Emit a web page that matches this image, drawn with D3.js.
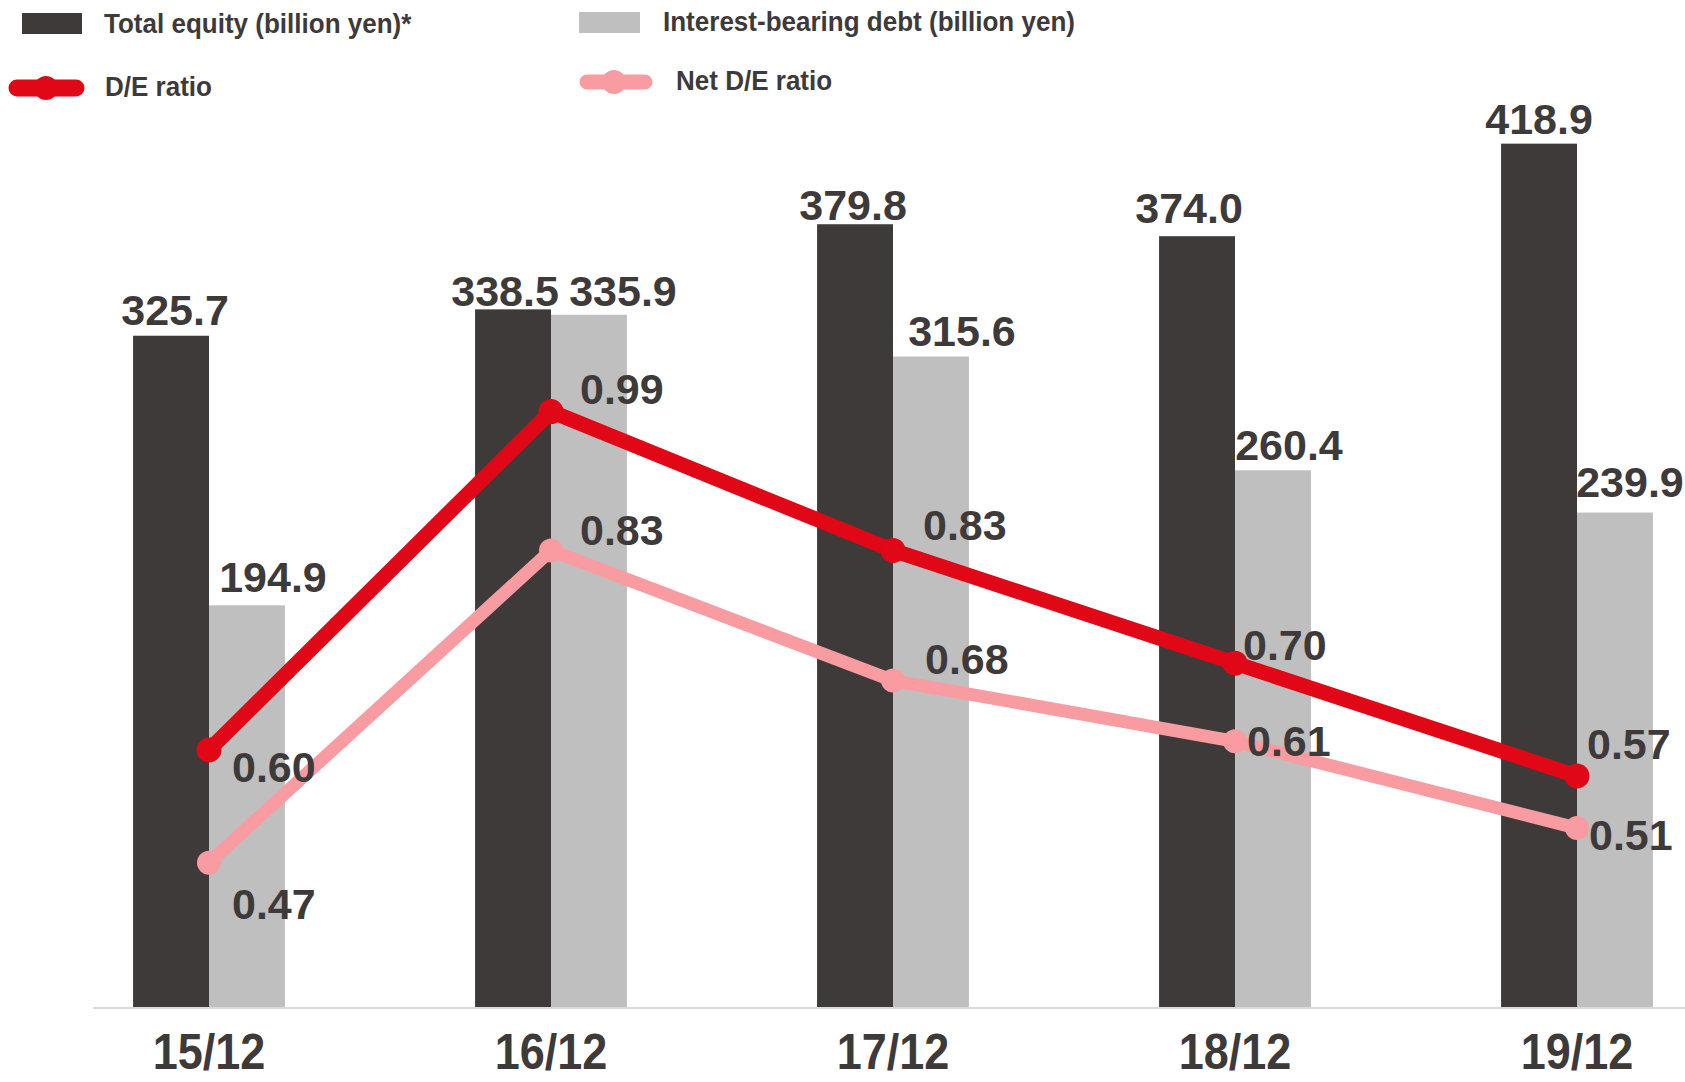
<!DOCTYPE html>
<html>
<head>
<meta charset="utf-8">
<script src="https://cdn.jsdelivr.net/npm/d3@7"></script>
<style>
  html, body { margin: 0; padding: 0; background: #fff; }
  svg { display: block; font-family: "Liberation Sans", Arial, sans-serif; font-weight: 700; }
</style>
</head>
<body>
<svg id="chart" width="1685" height="1082"></svg>
<script>
// data
const categories = ["15/12", "16/12", "17/12", "18/12", "19/12"];
const totalEquity = [325.7, 338.5, 379.8, 374.0, 418.9];   // billion yen
const interestDebt = [194.9, 335.9, 315.6, 260.4, 239.9];  // billion yen
const deRatio = [0.60, 0.99, 0.83, 0.70, 0.57];
const netDeRatio = [0.47, 0.83, 0.68, 0.61, 0.51];

// small label nudges (dx, dy) so labels sit where the original put them
const equityNudge = [[4, -11], [-8, -3], [-2, -4], [-8, -13], [0, -10]];
const debtNudge = [[26, -13], [34, -9], [31, -11], [16, -10], [15, -16]];
const deNudge = [[23, 32], [29, -8], [30, -10], [8, -3], [10, -17]];
const netNudge = [[23, 56], [29, -5], [32, -7], [12, 15], [12, 22]];

const W = 1685, H = 1082;
const baseY = 1007;

const colors = {
  equity: "#3e3a39",
  debt: "#bfbfbf",
  de: "#e00816",
  net: "#f99ca2",
  text: "#3e3a39"
};

const svg = d3.select("#chart");

// x: one band per year, two bars per band
const x0 = d3.scaleBand()
  .domain(categories)
  .range([38, 1748])
  .paddingInner(0.556)
  .paddingOuter(0.278);

const x1 = d3.scaleBand()
  .domain(["equity", "debt"])
  .range([0, x0.bandwidth()]);

const yBar = d3.scaleLinear().domain([0, 488.6]).range([baseY, 0]);
const yRatio = d3.scaleLinear().domain([0.3, 1.4]).range([1010.3, 55.8]);

const cx = c => x0(c) + x0.bandwidth() / 2;

// bars
const groups = svg.append("g")
  .selectAll("g")
  .data(categories)
  .join("g")
  .attr("transform", c => `translate(${x0(c)},0)`);

groups.append("rect")
  .attr("x", x1("equity"))
  .attr("y", (c, i) => yBar(totalEquity[i]))
  .attr("width", x1.bandwidth())
  .attr("height", (c, i) => baseY - yBar(totalEquity[i]))
  .attr("fill", colors.equity);

groups.append("rect")
  .attr("x", x1("debt"))
  .attr("y", (c, i) => yBar(interestDebt[i]))
  .attr("width", x1.bandwidth())
  .attr("height", (c, i) => baseY - yBar(interestDebt[i]))
  .attr("fill", colors.debt);

// baseline
svg.append("line")
  .attr("x1", 93).attr("x2", W)
  .attr("y1", baseY + 1).attr("y2", baseY + 1)
  .attr("stroke", "#d9d9d9")
  .attr("stroke-width", 2);

// x labels (condensed look)
svg.append("g")
  .selectAll("text")
  .data(categories)
  .join("text")
  .attr("transform", c => `translate(${cx(c)},1069) scale(0.9,1)`)
  .attr("text-anchor", "middle")
  .attr("font-size", 50)
  .attr("fill", colors.text)
  .text(c => c);

// ratio lines
function drawLine(values, color, width, r) {
  const line = d3.line()
    .x((d, i) => cx(categories[i]))
    .y(d => yRatio(d));
  svg.append("path")
    .datum(values)
    .attr("fill", "none")
    .attr("stroke", color)
    .attr("stroke-width", width)
    .attr("stroke-linejoin", "round")
    .attr("d", line);
  svg.append("g")
    .selectAll("circle")
    .data(values)
    .join("circle")
    .attr("cx", (d, i) => cx(categories[i]))
    .attr("cy", d => yRatio(d))
    .attr("r", r)
    .attr("fill", color);
}
drawLine(netDeRatio, colors.net, 13, 12);
drawLine(deRatio, colors.de, 15, 12.5);

// value labels
const labels = svg.append("g")
  .attr("font-size", 43)
  .attr("fill", colors.text);

labels.selectAll(".eq")
  .data(totalEquity)
  .join("text")
  .attr("class", "eq")
  .attr("text-anchor", "middle")
  .attr("x", (d, i) => x0(categories[i]) + x1("equity") + x1.bandwidth() / 2 + equityNudge[i][0])
  .attr("y", (d, i) => yBar(d) + equityNudge[i][1])
  .text(d => d.toFixed(1));

labels.selectAll(".debt")
  .data(interestDebt)
  .join("text")
  .attr("class", "debt")
  .attr("text-anchor", "middle")
  .attr("x", (d, i) => x0(categories[i]) + x1("debt") + x1.bandwidth() / 2 + debtNudge[i][0])
  .attr("y", (d, i) => yBar(d) + debtNudge[i][1])
  .text(d => d.toFixed(1));

labels.selectAll(".de")
  .data(deRatio)
  .join("text")
  .attr("class", "de")
  .attr("x", (d, i) => cx(categories[i]) + deNudge[i][0])
  .attr("y", (d, i) => yRatio(d) + deNudge[i][1])
  .text(d => d.toFixed(2));

labels.selectAll(".net")
  .data(netDeRatio)
  .join("text")
  .attr("class", "net")
  .attr("x", (d, i) => cx(categories[i]) + netNudge[i][0])
  .attr("y", (d, i) => yRatio(d) + netNudge[i][1])
  .text(d => d.toFixed(2));

// legend
const legend = svg.append("g").attr("fill", colors.text).attr("font-size", 28);

legend.append("rect").attr("x", 22).attr("y", 13).attr("width", 60).attr("height", 21).attr("fill", colors.equity);
legend.append("text").attr("transform", "translate(104,33) scale(0.93,1)").text("Total equity (billion yen)*");

legend.append("rect").attr("x", 579).attr("y", 12).attr("width", 61).attr("height", 21).attr("fill", colors.debt);
legend.append("text").attr("transform", "translate(663,31) scale(0.93,1)").text("Interest-bearing debt (billion yen)");

legend.append("line").attr("x1", 17).attr("x2", 76).attr("y1", 88).attr("y2", 88)
  .attr("stroke", colors.de).attr("stroke-width", 17).attr("stroke-linecap", "round");
legend.append("circle").attr("cx", 46).attr("cy", 88).attr("r", 12).attr("fill", colors.de);
legend.append("text").attr("transform", "translate(105,96) scale(0.93,1)").text("D/E ratio");

legend.append("line").attr("x1", 587).attr("x2", 645).attr("y1", 82).attr("y2", 82)
  .attr("stroke", colors.net).attr("stroke-width", 15).attr("stroke-linecap", "round");
legend.append("circle").attr("cx", 614).attr("cy", 82).attr("r", 12).attr("fill", colors.net);
legend.append("text").attr("transform", "translate(676,90) scale(0.93,1)").text("Net D/E ratio");
</script>
</body>
</html>
